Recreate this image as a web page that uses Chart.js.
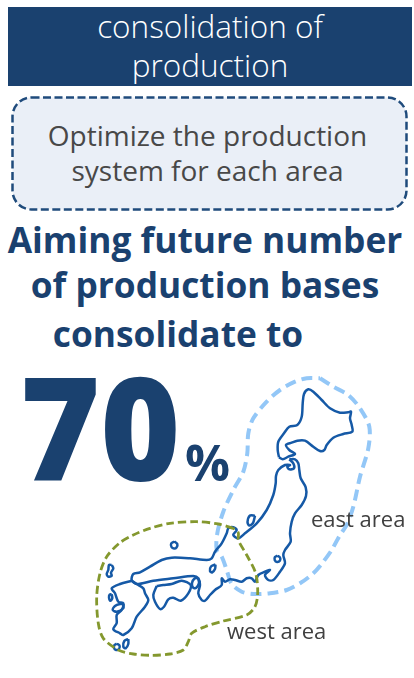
<!DOCTYPE html>
<html>
<head>
<meta charset="utf-8">
<title>consolidation of production</title>
<script src="https://cdn.jsdelivr.net/npm/chart.js@4/dist/chart.umd.min.js"></script>
<style>
  html, body { margin: 0; padding: 0; background: #fff; }
  #page { position: relative; width: 414px; height: 678px; overflow: hidden; font-family: "Open Sans", sans-serif; }
  #mapChart { position: absolute; left: 0; top: 0; }
  .banner { position: absolute; left: 8px; top: 7px; width: 404px; height: 79px; background: #1A416F; }
  .note { position: absolute; left: 0; top: 0; }
  .t { position: absolute; white-space: nowrap; line-height: 1; text-align: center; }
  .light { font-weight: 300; color: #fff; font-size: 31.5px; left: 8px; width: 404px; }
  .grey { color: #484848; font-size: 28px; left: 12px; width: 391px; }
  .bold { font-weight: 700; color: #1A416F; font-size: 35.3px; left: 0; }
  .tag { color: #404040; font-size: 22px; }
  #share { font-weight: 800; transform: scaleX(0.95); transform-origin: left top; }
</style>
</head>
<body>
<div id="page">
  <div class="banner"></div>
  <svg class="note" width="414" height="220">
    <rect x="12.5" y="97.5" width="394" height="112" rx="19" fill="#EAEFF7"
          stroke="#1F4B7C" stroke-width="2.5" stroke-dasharray="8 3.5"/>
  </svg>
  <div class="t light" style="top:10px">consolidation of</div>
  <div class="t light" style="top:49px">production</div>
  <div class="t grey" style="top:121px">Optimize the production</div>
  <div class="t grey" style="top:156px">system for each area</div>
  <div class="t bold" style="top:222px;width:410px">Aiming future number</div>
  <div class="t bold" style="top:267px;width:410px">of production bases</div>
  <div class="t bold" style="top:316px;width:356px">consolidate to</div>
  <div class="t bold" id="share" style="top:353px;left:20px;font-size:144px;text-align:left"></div>
  <div class="t bold" style="top:437px;left:185px;font-size:50px;text-align:left">%</div>
  <canvas id="mapChart" width="414" height="678"></canvas>
  <div class="t tag" style="top:506.5px;left:311px">east area</div>
  <div class="t tag" style="top:618.5px;left:227px">west area</div>
</div>

<script>
// headline figure
const targetShare = 70;

// coastlines, [x, y] on the page-sized scales below
const hokkaido = [
  [279, 457.3], [277.7, 450], [278.3, 441.7], [284, 433.3], [289.3, 426.7], [297.3, 425],
  [301.7, 416.7], [302.7, 403.3], [304, 394], [308.3, 389.3], [313.3, 391.7], [321.7, 400],
  [330, 408.3], [340, 412.7], [348.3, 412.3], [351, 411.7], [350, 418.3], [351.7, 425],
  [352.3, 431.7], [343.3, 434], [333.3, 437.7], [326.7, 445], [324.3, 450], [320, 451],
  [313.3, 446.7], [305, 440.7], [297.3, 440.7], [291.7, 442.7], [286, 445], [289.3, 450],
  [295, 454], [288.3, 456.7], [282.7, 459.3], [279, 457.3]
];
const honshu = [
  [289.3, 459.3], [295, 459.3], [298.3, 463.3], [299.3, 470], [300.7, 478.3], [305.7, 487.3],
  [306, 496], [301.7, 505], [295, 513.3], [291.7, 521.7], [290, 533.3], [290.7, 541.7],
  [285, 550], [283.3, 555], [285, 563.3], [280, 571.7], [273.3, 580], [268.3, 580],
  [265, 575], [270, 570], [265, 571.7], [258.3, 575], [255, 581.7], [251.7, 578.3],
  [246.7, 578.3], [241.7, 581.7], [235, 580], [230, 579.3], [225, 581.7], [221.7, 578.3],
  [221.7, 585], [215, 590], [210, 595], [205, 600.7], [201.7, 600], [198.3, 593.3],
  [200, 585], [198.3, 578.3], [193.3, 576], [173.3, 578.3], [153.3, 580.7], [136.7, 584],
  [131.7, 580], [133.3, 574], [140, 572.3], [150, 566.7], [161.7, 560], [171.7, 557.7],
  [190, 558.3], [206.7, 560], [211.7, 558.3], [215, 551.7], [221.7, 543.3], [226.7, 533.3],
  [228.3, 528.3], [233.3, 527.3], [236.7, 530], [233.3, 535], [238.3, 538.3], [245, 533.3],
  [256.7, 523.3], [266.7, 510], [273.3, 495], [275.7, 483.3], [276, 476], [278.3, 470],
  [285, 465], [290, 465], [287.3, 466.7], [289.3, 469.3], [294, 468.3], [293.3, 463.3], [289.3, 459.3]
];
const shikoku = [
  [156.7, 586], [153.3, 595], [155, 601.7], [160, 609], [164, 606.7], [168.3, 599.3],
  [173.3, 597.7], [180.7, 600.7], [188.3, 593.3], [190.7, 585], [181.7, 580.7], [171.7, 584],
  [163.3, 585], [156.7, 586]
];
const kyushu = [
  [131.7, 580.7], [120, 584], [111.7, 588.3], [115, 593.3], [118.3, 601.7], [123.3, 603.3],
  [121.7, 610], [116.7, 615], [116.7, 623], [113.3, 629.3], [120, 633.3], [123.3, 635],
  [131.7, 628.3], [136.7, 616.7], [145, 606.7], [148.3, 600], [145, 593.3], [143.3, 588.3],
  [136.7, 584], [131.7, 580.7]
];

// smaller islands and the lake
const sado = [[255, 515.7], [253, 523], [249.3, 525.5], [247.5, 522], [250, 515.5], [255, 515.7]];
const oki = [[174.3, 541.5], [177.3, 544], [176.5, 547.5], [174, 548.5], [171.5, 547], [171.2, 543.5], [174.3, 541.5]];
const biwa = [[215.5, 564.5], [215, 569], [212, 572.5], [210, 571], [211, 566.5], [215.5, 564.5]];
const awaji = [[198, 578], [199, 583], [196, 588], [193, 587.5], [192, 583], [194.5, 578.5], [198, 578]];
const tsushima = [[111.7, 565], [113.3, 568.3], [111, 572.7], [111.7, 575.7], [108.3, 576.7], [106.7, 574], [108.3, 570], [109, 565], [111.7, 565]];
const hirado = [[111.7, 594.3], [112.3, 598.3], [110.3, 600.7], [109, 597.3], [109.7, 594.7], [111.7, 594.3]];
const nagasaki = [[123.3, 604], [123.3, 608.3], [116.7, 611.7], [112.7, 610], [115, 606], [120, 604], [123.3, 604]];
const tanegashima = [[128.3, 639], [128.3, 644], [125.7, 648.3], [123.3, 646.7], [124.3, 641], [128.3, 639]];
const yakushima = [[116.7, 643.7], [119.5, 645.5], [119, 649], [116, 650], [114, 648], [114.5, 645], [116.7, 643.7]];
const izuIsle = [[277.3, 555.7], [280, 557.5], [280, 560.5], [277, 562], [274.7, 560], [275, 557], [277.3, 555.7]];

const islands = [sado, oki, biwa, awaji, tsushima, hirado, nagasaki, tanegashima, yakushima, izuIsle];

// dashed area boundaries
const eastArea = [
  [320, 378.3], [333.3, 386.7], [348.3, 395], [360, 408.3], [369.3, 426.7], [368.3, 448.3],
  [360, 476.7], [353.3, 506.7], [346.7, 525], [340, 535], [331.7, 550], [323.3, 561.7],
  [313.3, 573.3], [300, 583.3], [286.7, 590], [270, 593.3], [253.3, 594], [241.7, 591.7],
  [231.7, 584], [226.7, 570], [221.7, 556.7], [216.7, 550], [217.3, 533.3], [223.3, 511.7],
  [233.3, 490], [243.3, 471.7], [247.3, 453.3], [248.3, 433.3], [253.3, 418.3], [266.7, 401.7],
  [280, 390], [295, 381.7], [306.7, 378.3], [320, 378.3]
];
const westArea = [
  [233.3, 528.3], [218.3, 524], [196.7, 521.7], [170, 523.3], [150, 528.3], [133.3, 535],
  [120, 542.7], [106.7, 556.7], [100, 573.3], [96.7, 596.7], [98.3, 623.3], [103.3, 638.3],
  [118.3, 650], [133.3, 654], [151.7, 655.3], [170, 654], [183.3, 650], [188.3, 641.7],
  [191.7, 633.3], [205, 626.7], [223.3, 621], [246.7, 615], [255, 606.7], [257.7, 593.3],
  [255.7, 573.3], [246.7, 555], [238.3, 540], [238.3, 532.7], [233.3, 528.3]
];

document.getElementById('share').textContent = targetShare;

const COAST = '#1559A6';

function coastLine(points) {
  return { data: points, borderColor: COAST, borderWidth: 2.5, tension: 0.3, order: 2 };
}

const datasets = [
  { data: westArea, borderColor: '#84982E', borderWidth: 2.8, borderDash: [8, 4], tension: 0.3, order: 1 },
  coastLine(hokkaido),
  coastLine(honshu),
  coastLine(shikoku),
  coastLine(kyushu),
  ...islands.map(coastLine),
  { data: eastArea, borderColor: '#93C7F7', borderWidth: 4, borderDash: [11, 6], tension: 0.3, order: 3 }
];

new Chart(document.getElementById('mapChart').getContext('2d'), {
  type: 'scatter',
  data: { datasets },
  options: {
    responsive: false,
    animation: false,
    events: [],
    showLine: true,
    pointRadius: 0,
    layout: { padding: 0 },
    plugins: { legend: { display: false }, tooltip: { enabled: false } },
    scales: {
      x: { type: 'linear', min: 0, max: 414, display: false },
      y: { type: 'linear', min: 0, max: 678, reverse: true, display: false }
    }
  }
});
</script>
</body>
</html>
